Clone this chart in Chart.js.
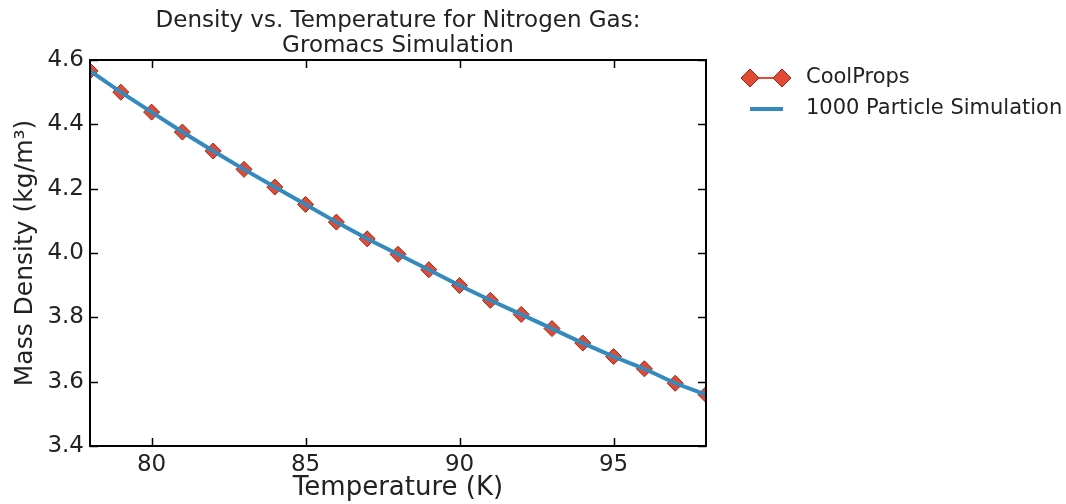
<!DOCTYPE html>
<html>
<head>
<meta charset="utf-8">
<script src="https://cdn.jsdelivr.net/npm/chart.js@4/dist/chart.umd.min.js"></script>
<style>
  html, body { margin: 0; padding: 0; background: #fff; }
  #chart { display: block; }
</style>
</head>
<body>
<canvas id="chart" width="1066" height="504"></canvas>
<script>
// temperatures (K)
var temps = [78, 79, 80, 81, 82, 83, 84, 85, 86, 87, 88, 89, 90, 91, 92, 93, 94, 95, 96, 97, 98];
// CoolProps densities (kg/m^3)
var coolProps = [4.566, 4.500, 4.438, 4.376, 4.317, 4.260, 4.205, 4.151, 4.096, 4.044, 3.996,
                 3.948, 3.899, 3.853, 3.809, 3.765, 3.720, 3.678, 3.640, 3.595, 3.560];
// 1000 particle simulation densities (kg/m^3)
var simDensity = [4.566, 4.500, 4.438, 4.376, 4.317, 4.260, 4.205, 4.151, 4.096, 4.044, 3.996,
                  3.948, 3.899, 3.853, 3.809, 3.765, 3.720, 3.678, 3.640, 3.595, 3.560];
var xTicks = [80, 85, 90, 95];
var yTicks = [3.4, 3.6, 3.8, 4.0, 4.2, 4.4, 4.6];

var titleLines = ["Density vs. Temperature for Nitrogen Gas:", "Gromacs Simulation"];
var font = "'DejaVu Sans', sans-serif";
var red = "#E24A33";
var redEdge = "#8f2a1b";
var blue = "#348ABD";

function toPoints(xs, ys) {
    var pts = [];
    for (let i = 0; i < xs.length; i++) {
        pts.push({ x: xs[i], y: ys[i] });
    }
    return pts;
}

// frame, inward ticks, title and legend drawn the matplotlib way
var decorations = {
    id: "decorations",
    afterDatasetsDraw: function(chart) {
        var ctx = chart.ctx;
        var a = chart.chartArea;
        var xs = chart.scales.x;
        var ys = chart.scales.y;
        ctx.save();
        ctx.strokeStyle = "#000";
        ctx.lineWidth = 1.5;
        xTicks.forEach(function(t) {
            var px = Math.round(xs.getPixelForValue(t)) + 0.5;
            ctx.beginPath();
            ctx.moveTo(px, a.bottom); ctx.lineTo(px, a.bottom - 8);
            ctx.moveTo(px, a.top); ctx.lineTo(px, a.top + 8);
            ctx.stroke();
        });
        yTicks.forEach(function(t) {
            var py = Math.round(ys.getPixelForValue(t)) + 0.5;
            ctx.beginPath();
            ctx.moveTo(a.left, py); ctx.lineTo(a.left + 8, py);
            ctx.moveTo(a.right, py); ctx.lineTo(a.right - 8, py);
            ctx.stroke();
        });
        ctx.lineWidth = 2;
        ctx.strokeRect(a.left, a.top, a.right - a.left, a.bottom - a.top);

        // title
        ctx.fillStyle = "#222";
        ctx.font = "23px " + font;
        ctx.textAlign = "center";
        ctx.textBaseline = "middle";
        var cx = (a.left + a.right) / 2;
        ctx.fillText(titleLines[0], cx, 21);
        ctx.fillText(titleLines[1], cx, 46);

        // legend
        var ds = chart.data.datasets;
        ctx.textAlign = "left";
        ctx.font = "21px " + font;
        var ly = 78;
        ctx.strokeStyle = ds[0].borderColor;
        ctx.lineWidth = 2;
        ctx.beginPath(); ctx.moveTo(750, ly); ctx.lineTo(782, ly); ctx.stroke();
        [750, 782].forEach(function(mx) {
            ctx.beginPath();
            ctx.moveTo(mx - 9, ly); ctx.lineTo(mx, ly - 9); ctx.lineTo(mx + 9, ly); ctx.lineTo(mx, ly + 9);
            ctx.closePath();
            ctx.fillStyle = ds[0].pointBackgroundColor;
            ctx.fill();
            ctx.strokeStyle = ds[0].pointBorderColor;
            ctx.lineWidth = 1;
            ctx.stroke();
        });
        ctx.fillStyle = "#222";
        ctx.fillText(ds[0].label, 806, ly);
        var ly2 = 109;
        ctx.strokeStyle = ds[1].borderColor;
        ctx.lineWidth = 4;
        ctx.beginPath(); ctx.moveTo(750, ly2); ctx.lineTo(783, ly2); ctx.stroke();
        ctx.fillText(ds[1].label, 806, ly2);
        ctx.restore();
    }
};

new Chart(document.getElementById("chart").getContext("2d"), {
    type: "line",
    data: {
        datasets: [
            {
                label: "CoolProps",
                data: toPoints(temps, coolProps),
                borderColor: red,
                borderWidth: 2,
                pointStyle: "rectRot",
                pointRadius: 8,
                pointBackgroundColor: red,
                pointBorderColor: redEdge,
                pointBorderWidth: 1,
                order: 2
            },
            {
                label: "1000 Particle Simulation",
                data: toPoints(temps, simDensity),
                borderColor: blue,
                borderWidth: 4,
                pointRadius: 0,
                order: 1
            }
        ]
    },
    options: {
        responsive: false,
        animation: false,
        layout: { padding: { top: 60, right: 360, left: 0, bottom: 0 } },
        plugins: {
            legend: { display: false },
            tooltip: { enabled: false }
        },
        scales: {
            x: {
                type: "linear",
                min: 78,
                max: 98,
                afterBuildTicks: function(scale) {
                    scale.ticks = xTicks.map(function(v) { return { value: v }; });
                },
                afterFit: function(scale) { scale.height = 58; },
                grid: { display: false, drawTicks: false },
                border: { display: false },
                ticks: {
                    color: "#222",
                    padding: 5,
                    font: { family: font, size: 23 }
                },
                title: {
                    display: true,
                    text: "Temperature (K)",
                    color: "#222",
                    padding: { top: 0, bottom: 0 },
                    font: { family: font, size: 26 }
                }
            },
            y: {
                type: "linear",
                min: 3.4,
                max: 4.6,
                afterBuildTicks: function(scale) {
                    scale.ticks = yTicks.map(function(v) { return { value: v }; });
                },
                afterFit: function(scale) { scale.width = 90; },
                grid: { display: false, drawTicks: false },
                border: { display: false },
                ticks: {
                    color: "#222",
                    padding: 6,
                    font: { family: font, size: 23 },
                    callback: function(v) { return v.toFixed(1); }
                },
                title: {
                    display: true,
                    text: "Mass Density (kg/m³)",
                    color: "#222",
                    padding: { top: 10, bottom: 0 },
                    font: { family: font, size: 25 }
                }
            }
        }
    },
    plugins: [decorations]
});
</script>
</body>
</html>
